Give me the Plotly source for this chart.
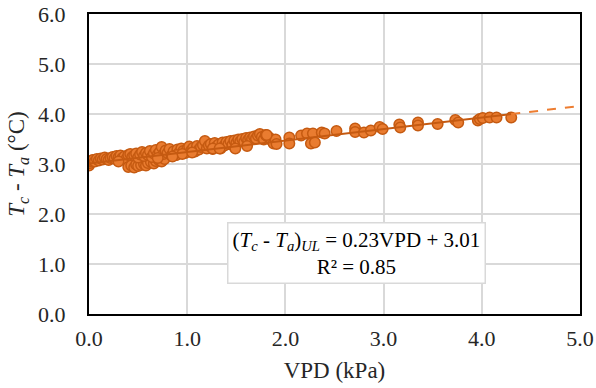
import plotly.graph_objects as go

vpd = [0.00, 0.01, 0.02, 0.04, 0.06, 0.08, 0.10, 0.12, 0.14, 0.16, 0.18, 0.20, 0.22, 0.24,
       0.26, 0.28, 0.30, 0.32, 0.34, 0.36, 0.38, 0.40, 0.42, 0.44,
       0.40, 0.43, 0.46, 0.48, 0.50, 0.53, 0.56, 0.58, 0.60, 0.63, 0.66, 0.68, 0.71, 0.74, 0.77,
       0.46, 0.48, 0.50, 0.52, 0.54, 0.56, 0.58, 0.60, 0.62, 0.64, 0.66, 0.68, 0.70, 0.72, 0.74,
       0.76, 0.78, 0.80, 0.82, 0.84, 0.86, 0.88, 0.90, 0.92, 0.94, 0.96, 0.98, 1.00, 1.02, 1.04,
       1.06, 1.08, 1.10, 1.12, 1.14, 1.16, 1.18, 1.20, 1.22, 1.24, 1.26, 1.28, 1.30, 1.32, 1.34,
       1.36, 1.38, 1.40, 1.42, 1.44, 1.46, 1.48, 1.50, 1.52, 1.54, 1.56, 1.58, 1.60, 1.62, 1.64,
       1.66, 1.68, 1.70, 1.72, 1.74, 1.76, 1.78, 1.80, 1.82, 1.84, 1.86, 1.88, 1.90,
       0.89, 0.95, 1.05, 1.26, 1.33, 1.49, 1.61, 0.85, 0.30, 0.70,
       1.91, 1.81, 2.04, 2.04, 2.16, 2.22, 2.28, 2.26, 2.30, 2.37, 2.40, 2.52, 2.71, 2.71,
       2.80, 2.87, 2.96, 2.99, 3.16, 3.17, 3.35, 3.35, 3.55, 3.73, 3.76, 3.96, 3.98, 4.01,
       4.08, 4.15, 4.30]
tdiff = [2.97, 3.02, 3.06, 3.08, 3.05, 3.10, 3.07, 3.11, 3.09, 3.13, 3.10, 3.08, 3.12, 3.14,
         3.11, 3.16, 3.13, 3.17, 3.12, 3.15, 3.10, 3.18, 3.20, 3.14,
         2.94, 2.97, 2.93, 2.99, 2.96, 2.98, 3.00, 2.97, 3.02, 3.04, 3.01, 3.06, 3.08, 3.05, 3.10,
         3.17, 3.21, 3.13, 3.19, 3.24, 3.16, 3.22, 3.18, 3.26, 3.14, 3.21, 3.28, 3.19, 3.24, 3.34,
         3.20, 3.27, 3.22, 3.30, 3.17, 3.25, 3.18, 3.29, 3.23, 3.31, 3.26, 3.22, 3.30, 3.35, 3.27,
         3.32, 3.25, 3.36, 3.29, 3.34, 3.38, 3.46, 3.31, 3.37, 3.40, 3.30, 3.42, 3.35, 3.39, 3.31,
         3.43, 3.37, 3.44, 3.40, 3.46, 3.38, 3.47, 3.42, 3.49, 3.45, 3.50, 3.44, 3.52, 3.48, 3.53,
         3.50, 3.55, 3.51, 3.57, 3.60, 3.54, 3.49, 3.58, 3.55, 3.52, 3.47, 3.41, 3.49,
         3.18, 3.20, 3.23, 3.31, 3.31, 3.31, 3.36, 3.15, 3.05, 3.12,
         3.40, 3.58, 3.53, 3.41, 3.57, 3.61, 3.61, 3.41, 3.43, 3.63, 3.61, 3.66, 3.71, 3.64,
         3.63, 3.67, 3.74, 3.70, 3.79, 3.73, 3.83, 3.77, 3.80, 3.88, 3.83, 3.87, 3.90, 3.92,
         3.93, 3.93, 3.93]

slope = 0.23
intercept = 3.01
fit_end = 4.30
x_max = 5.0

x_ticks = [0, 1, 2, 3, 4, 5]
x_tick_labels = ["0.0", "1.0", "2.0", "3.0", "4.0", "5.0"]
y_ticks = [0, 1, 2, 3, 4, 5, 6]
y_tick_labels = ["0.0", "1.0", "2.0", "3.0", "4.0", "5.0", "6.0"]

FONT = "Liberation Serif"
TXT = "#262626"

fig = go.Figure()
fig.add_trace(go.Scatter(
    x=vpd, y=tdiff, mode="markers",
    marker=dict(size=10.5, color="#E97C30", line=dict(color="#C55A11", width=1.5)),
    showlegend=False, hoverinfo="x+y"))

fx = [0, fit_end]
fig.add_trace(go.Scatter(
    x=fx, y=[intercept + slope * v for v in fx], mode="lines",
    line=dict(color="#C55A11", width=2), showlegend=False))
dx = [fit_end, x_max]
fig.add_trace(go.Scatter(
    x=dx, y=[intercept + slope * v for v in dx], mode="lines",
    line=dict(color="#ED7D31", width=2, dash="dash"), showlegend=False))

fig.update_layout(
    width=596, height=388,
    margin=dict(l=89, r=16, t=14, b=74),
    paper_bgcolor="white", plot_bgcolor="white",
    font=dict(family=FONT, size=22, color=TXT),
    xaxis=dict(range=[0, 5], tickvals=x_ticks, ticktext=x_tick_labels,
               automargin=False,
               tickfont=dict(family=FONT, size=22, color=TXT),
               showgrid=True, gridcolor="#D9D9D9", gridwidth=1.5,
               showline=True, linecolor="black", linewidth=2, mirror=True,
               zeroline=False, ticks="", ticklabelstandoff=4,
               title=dict(text="VPD (kPa)", standoff=11,
                          font=dict(family=FONT, size=23, color=TXT))),
    yaxis=dict(range=[0, 6], tickvals=y_ticks, ticktext=y_tick_labels,
               automargin=False,
               tickfont=dict(family=FONT, size=22, color=TXT),
               showgrid=True, gridcolor="#D9D9D9", gridwidth=1.5,
               showline=True, linecolor="black", linewidth=2, mirror=True,
               zeroline=False, ticks="", ticklabelstandoff=17,
               title=dict(text="<i>T</i><sub><i>c</i></sub> - <i>T</i><sub><i>a</i></sub> (°C)",
                          standoff=7,
                          font=dict(family=FONT, size=23, color=TXT))),
    annotations=[dict(
        x=(356 - 89) / 98.2, y=(314 - 253) / 50, xref="x", yref="y", showarrow=False,
        text="(<i>T</i><sub><i>c</i></sub> - <i>T</i><sub><i>a</i></sub>)<sub><i>UL</i></sub> = 0.23VPD + 3.01<br>R² = 0.85",
        font=dict(family=FONT, size=21, color="black"),
        bgcolor="white", bordercolor="#D9D9D9", borderwidth=1.5, borderpad=4,
        align="center")],
)

fig.write_html("out.html")
